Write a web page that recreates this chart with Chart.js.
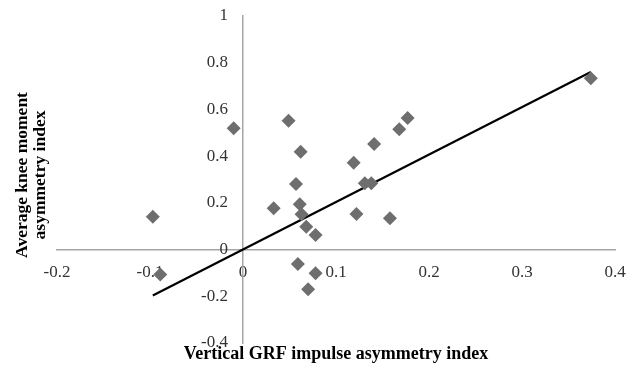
<!DOCTYPE html>
<html>
<head>
<meta charset="utf-8">
<script src="https://cdn.jsdelivr.net/npm/chart.js@4/dist/chart.umd.min.js"></script>
<style>
html,body{margin:0;padding:0;background:#fff;}
#wrap{width:633px;height:367px;position:relative;}
</style>
</head>
<body>
<div id="wrap"><canvas id="c" width="633" height="367"></canvas></div>
<script>
// Data
const grfImpulseAsym = [-0.097, -0.089, -0.010, 0.049, 0.062, 0.057, 0.033, 0.061, 0.063, 0.068, 0.078, 0.059, 0.078, 0.070, 0.119, 0.141, 0.168, 0.177, 0.131, 0.138, 0.122, 0.158, 0.374];
const kneeMomentAsym = [0.140, -0.107, 0.519, 0.552, 0.419, 0.281, 0.177, 0.194, 0.151, 0.098, 0.062, -0.062, -0.101, -0.170, 0.372, 0.452, 0.515, 0.563, 0.284, 0.284, 0.152, 0.134, 0.734];
const trendX = [-0.097, 0.374];
const trendY = [-0.197, 0.760];
const xTicks = [-0.2, -0.1, 0, 0.1, 0.2, 0.3, 0.4];
const yTicks = [-0.4, -0.2, 0, 0.2, 0.4, 0.6, 0.8, 1];
const xTitle = 'Vertical GRF impulse asymmetry index';
const yTitleLines = ['Average knee moment', 'asymmetry index'];

const points = grfImpulseAsym.map((x, i) => ({x: x, y: kneeMomentAsym[i]}));
const trend = trendX.map((x, i) => ({x: x, y: trendY[i]}));

const Y_LABEL_GAP = 15;

const yLabelShift = {
  id: 'yLabelShift',
  beforeDraw(chart) {
    const items = chart.scales.y.getLabelItems();
    if (!items._shifted) {
      items.forEach(it => { it.options.translation[0] -= Y_LABEL_GAP; });
      items._shifted = true;
    }
  }
};

const titlePlugin = {
  id: 'axisTitles',
  afterDraw(chart) {
    const ctx = chart.ctx;
    const a = chart.chartArea;
    ctx.save();
    ctx.fillStyle = '#000';
    ctx.textAlign = 'center';
    ctx.textBaseline = 'middle';
    ctx.font = 'bold 18px "Liberation Serif", "Times New Roman", serif';
    ctx.fillText(xTitle, (a.left + a.right) / 2, 354);
    ctx.font = 'bold 17.5px "Liberation Serif", "Times New Roman", serif';
    ctx.translate(0, 175);
    ctx.rotate(-Math.PI / 2);
    ctx.fillText(yTitleLines[0], 0, 22);
    ctx.fillText(yTitleLines[1], 0, 40);
    ctx.restore();
  }
};

const tickFont = {family: '"Liberation Serif", "Times New Roman", serif', size: 17};

new Chart(document.getElementById('c'), {
  data: {
    datasets: [
      {
        type: 'scatter',
        data: points,
        pointStyle: 'rectRot',
        pointRadius: 7,
        pointHoverRadius: 7,
        backgroundColor: '#6e6e6e',
        borderColor: '#6e6e6e',
        borderWidth: 0
      },
      {
        type: 'line',
        data: trend,
        borderColor: '#000',
        borderWidth: 2.2,
        pointRadius: 0,
        fill: false
      }
    ]
  },
  options: {
    responsive: false,
    animation: false,
    layout: {padding: {left: 57, right: 18, top: 16, bottom: 24}},
    plugins: {legend: {display: false}, tooltip: {enabled: false}},
    scales: {
      x: {
        type: 'linear',
        position: {y: 0},
        min: -0.2, max: 0.4,
        afterBuildTicks: s => { s.ticks = xTicks.map(v => ({value: v})); },
        grid: {display: false},
        border: {display: true, color: '#a6a6a6', width: 1.5},
        ticks: {font: tickFont, color: '#333', padding: 5, maxRotation: 0,
          callback: v => String(Math.round(v * 10) / 10)}
      },
      y: {
        type: 'linear',
        position: {x: 0},
        min: -0.4, max: 1,
        afterBuildTicks: s => { s.ticks = yTicks.map(v => ({value: v})); },
        grid: {display: false},
        border: {display: true, color: '#a6a6a6', width: 1.5},
        ticks: {font: tickFont, color: '#333', padding: 0,
          callback: v => String(Math.round(v * 10) / 10)}
      }
    }
  },
  plugins: [yLabelShift, titlePlugin]
});
</script>
</body>
</html>
